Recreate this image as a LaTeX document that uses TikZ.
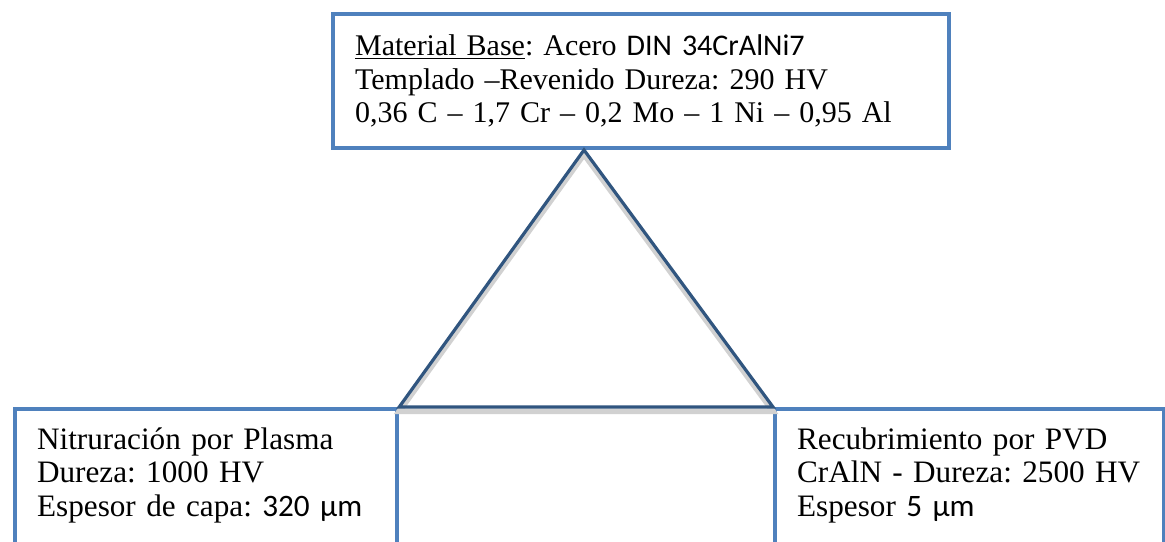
\documentclass[tikz,border=0pt]{standalone}
\usepackage{fontspec}
\setmainfont{Liberation Serif}
\newfontfamily\calibri{Carlito}
\usetikzlibrary{positioning}
\definecolor{boxblue}{HTML}{4F81BD}
\definecolor{trinavy}{HTML}{30557F}
\newcommand{\openbottom}{\rule[-10pt]{0pt}{10pt}}

\begin{document}
\frenchspacing
\begin{tikzpicture}[
    x=0.5pt, y=-0.5pt,
    box/.style={rectangle, draw=boxblue, line width=2.1pt, align=left, inner ysep=0pt,
                font=\fontsize{15}{16.75}\selectfont},
    lowbox/.style={box, anchor=north west, inner ysep=9.3pt, inner xsep=11pt,
                   font=\fontsize{15.6}{16.75}\selectfont},
    tri/.style={draw=trinavy, line width=1.6pt, line join=miter},
    trishadow/.style={draw=black!18, line width=2.8pt, line join=miter},
]
\useasboundingbox (0,0) rectangle (1165,541);
\clip (0,0) rectangle (1165,541);

% Base material on top
\node[box, anchor=north west, minimum width=308pt, minimum height=67pt,
      inner xsep=11pt, text width=286pt] (base) at (331,12)
  {\underline{Material Base}: Acero {\calibri DIN 34CrAlNi7}\\
   Templado –Revenido Dureza: 290 HV\\
   0,36 C – 1,7 Cr – 0,2 Mo – 1 Ni – 0,95 Al};

% Two treatments below (cut by the page edge)
\node[lowbox, minimum width=191pt, text width=169pt] (nitr) at (13,407)
  {Nitruración por Plasma\\
   Dureza: 1000 HV\\
   Espesor de capa: {\calibri 320 µm}\openbottom};
\node[lowbox, minimum width=194.5pt, text width=172.5pt] (pvd) at (773,407)
  {Recubrimiento por PVD\\
   CrAlN - Dureza: 2500 HV\\
   Espesor {\calibri 5 µm}\openbottom};

% Triangle joining the three boxes
\coordinate (apex) at (584,150);
\begin{scope}[transform canvas={yshift=-2.2pt}]
  \draw[trishadow] (apex) -- (nitr.north east) -- (pvd.north west) -- cycle;
\end{scope}
\draw[tri] (apex) -- (nitr.north east) -- (pvd.north west) -- cycle;

\end{tikzpicture}
\end{document}
